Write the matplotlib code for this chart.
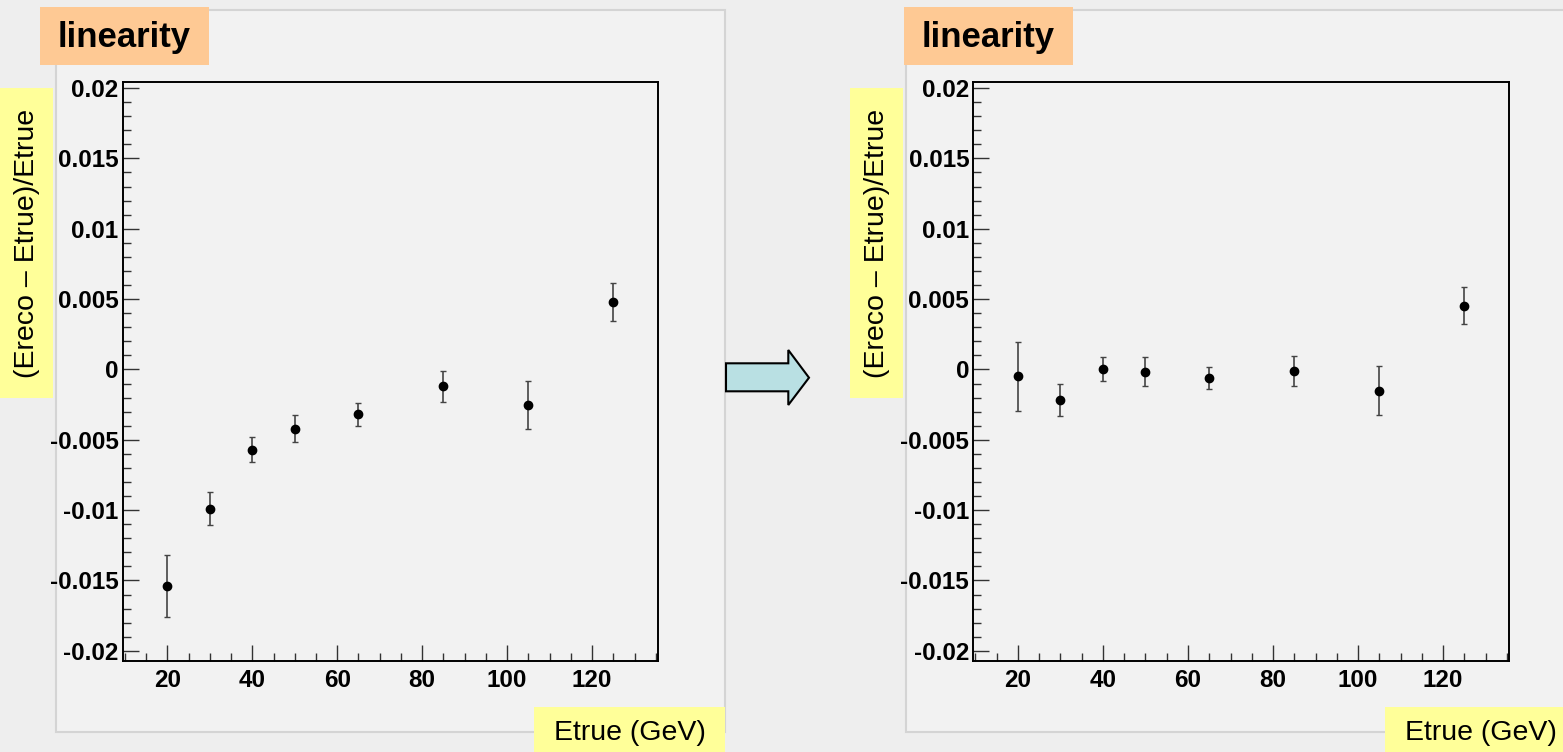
import numpy as np
import matplotlib
matplotlib.use("Agg")
import matplotlib.pyplot as plt
from matplotlib.patches import Rectangle, Polygon
from matplotlib.ticker import MultipleLocator, FixedLocator, FixedFormatter

plt.rcParams['font.family'] = ['Liberation Sans', 'DejaVu Sans']

# data
etrue = [20, 30, 40, 50, 65, 85, 105, 125]
lin_before = [-0.0154, -0.0099, -0.0057, -0.0042, -0.0032, -0.0012, -0.0025, 0.0048]
err_before = [0.0022, 0.00116, 0.0009, 0.00098, 0.0008, 0.00108, 0.0017, 0.00137]
lin_after = [-0.0005, -0.00216, 0.0, -0.00015, -0.00062, -0.00013, -0.0015, 0.00453]
err_after = [0.00248, 0.00112, 0.00085, 0.00103, 0.00077, 0.00107, 0.00176, 0.00133]

yticks = [-0.02, -0.015, -0.01, -0.005, 0, 0.005, 0.01, 0.015, 0.02]
ytick_labels = ['-0.02', '-0.015', '-0.01', '-0.005', '0', '0.005', '0.01', '0.015', '0.02']
xticks = [20, 40, 60, 80, 100, 120]
title = 'linearity'
xlabel = 'Etrue (GeV)'
ylabel = '(Ereco \u2013 Etrue)/Etrue'

W, H = 1563, 752
fig = plt.figure(figsize=(W / 100, H / 100), dpi=100)
fig.patch.set_facecolor('#eeeeee')


def box(x0, y0, x1, y1, **kw):
    # rectangle in pixel coords (y down)
    r = Rectangle((x0 / W, 1 - y1 / H), (x1 - x0) / W, (y1 - y0) / H,
                  transform=fig.transFigure, **kw)
    fig.add_artist(r)


def txt(x, y, s, **kw):
    fig.text(x / W, 1 - y / H, s, ha='center', va='center', zorder=5, **kw)


# pads (behind the axes)
box(56, 10, 725, 732, facecolor='#f2f2f2', edgecolor='#d4d4d4', lw=1.5, zorder=-10)
box(906, 10, 1570, 732, facecolor='#f2f2f2', edgecolor='#d4d4d4', lw=1.5, zorder=-10)


def panel(x0, x1, y, e):
    ax = fig.add_axes([x0 / W, 1 - 660.7 / H, (x1 - x0) / W, (660.7 - 81.7) / H])
    ax.set_facecolor('#f2f2f2')
    ax.errorbar(etrue, y, yerr=e, fmt='o', color='black', ms=6,
                ecolor='#444444', elinewidth=1.2, capsize=2, capthick=1)
    ax.set_xlim(9.5, 135.5)
    ax.set_ylim(-0.0207, 0.02045)
    ax.yaxis.set_major_locator(FixedLocator(yticks))
    ax.yaxis.set_major_formatter(FixedFormatter(ytick_labels))
    ax.xaxis.set_major_locator(FixedLocator(xticks))
    ax.xaxis.set_minor_locator(MultipleLocator(5))
    ax.yaxis.set_minor_locator(MultipleLocator(0.001))
    ax.tick_params(which='both', direction='in', top=False, right=False,
                   color='#333333', width=1)
    ax.tick_params(which='major', length=11.5, labelsize=17.5)
    ax.tick_params(which='minor', length=5.8)
    ax.tick_params(axis='y', pad=3)
    ax.tick_params(axis='x', pad=6)
    for lab in ax.get_xticklabels() + ax.get_yticklabels():
        lab.set_fontweight('bold')
    for s in ax.spines.values():
        s.set_linewidth(1.4)
    return ax


panel(122.7, 658, lin_before, err_before)
panel(973.3, 1509, lin_after, err_after)

# title boxes
box(40, 7, 209, 65, facecolor='#fec994', edgecolor='none', zorder=4)
txt(124.5, 37, title, fontsize=25, fontweight='bold')
box(904, 7, 1073, 65, facecolor='#fec994', edgecolor='none', zorder=4)
txt(988.5, 37, title, fontsize=25, fontweight='bold')

# y label boxes
box(0, 88, 53, 398, facecolor='#ffff99', edgecolor='none', zorder=4)
txt(27, 243, ylabel, fontsize=20.5, rotation=90)
box(850, 88, 903, 398, facecolor='#ffff99', edgecolor='none', zorder=4)
txt(877, 243, ylabel, fontsize=20.5, rotation=90)

# x label boxes
box(534, 707, 725, 760, facecolor='#ffff99', edgecolor='none', zorder=4)
txt(629.5, 733, xlabel, fontsize=20.5)
box(1385, 707, 1570, 760, facecolor='#ffff99', edgecolor='none', zorder=4)
txt(1480.5, 733, xlabel, fontsize=20.5)

# arrow between the panels
pts = [(726, 363.3), (788.3, 363.3), (788.3, 350), (809, 377.7),
       (788.3, 405), (788.3, 391.3), (726, 391.3)]
arrow = Polygon([(px / W, 1 - py / H) for px, py in pts], closed=True,
                transform=fig.transFigure, facecolor='#b9e0e3',
                edgecolor='black', lw=1.5, zorder=4)
fig.add_artist(arrow)

fig.savefig('out.png', dpi=100, facecolor=fig.get_facecolor())
